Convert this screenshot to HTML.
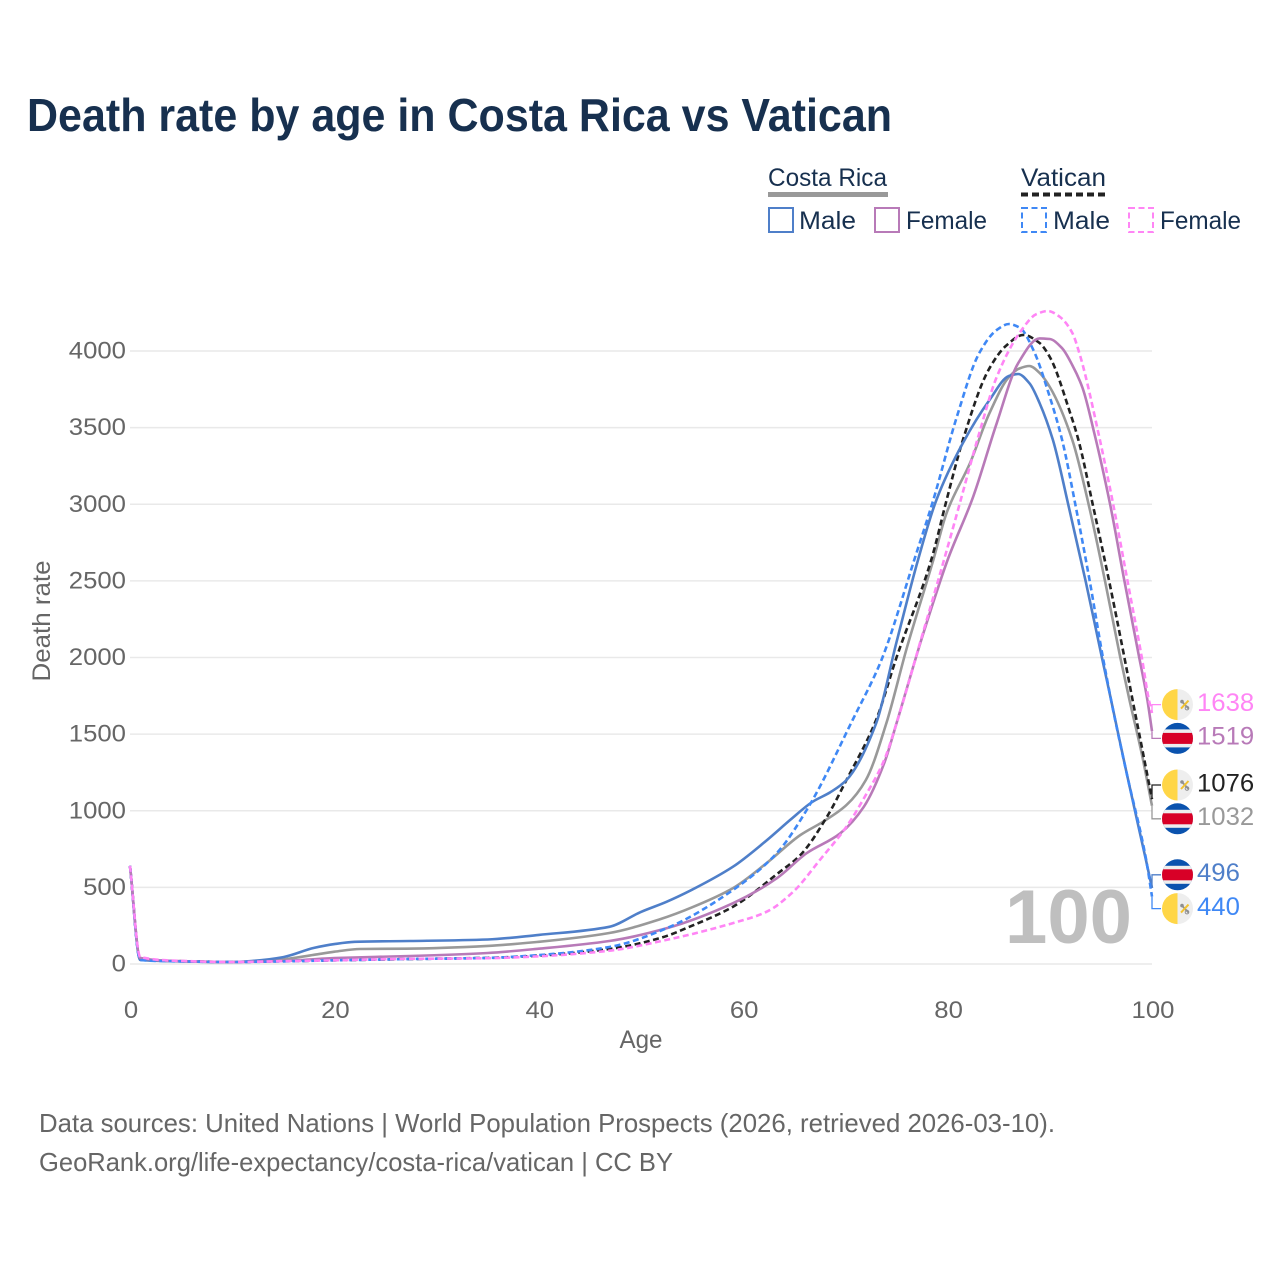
<!DOCTYPE html>
<html lang="en">
<head>
<meta charset="utf-8">
<title>Death rate by age in Costa Rica vs Vatican</title>
<style>
html,body{margin:0;padding:0;background:#fff;width:1280px;height:1280px;overflow:hidden}
svg{display:block}
text{font-family:"Liberation Sans",sans-serif}
</style>
</head>
<body>
<svg id="chart" xmlns="http://www.w3.org/2000/svg" width="1280" height="1280" viewBox="0 0 1280 1280">
  <defs>
    <clipPath id="flag-clip"><circle cx="0" cy="0" r="15.5"></circle></clipPath>
  </defs>
  <rect x="0" y="0" width="1280" height="1280" fill="#ffffff"></rect>

  <text x="27" y="131" font-size="46" font-weight="700" fill="#17304f" textLength="865" lengthAdjust="spacingAndGlyphs">Death rate by age in Costa Rica vs Vatican</text>

  <g>
    <text x="768" y="186" font-size="25" fill="#17304f" textLength="119" lengthAdjust="spacingAndGlyphs">Costa Rica</text>
    <line x1="768" y1="194.5" x2="888" y2="194.5" stroke="#999999" stroke-width="5"></line>
    <text x="1021" y="186" font-size="25" fill="#17304f" textLength="85" lengthAdjust="spacingAndGlyphs">Vatican</text>
    <line x1="1021" y1="194.5" x2="1106" y2="194.5" stroke="#222222" stroke-width="4" stroke-dasharray="7 4"></line>

    <rect x="769" y="208" width="24" height="24" fill="none" stroke="#4f7fc9" stroke-width="2"></rect>
    <text x="799" y="229" font-size="25" fill="#17304f" textLength="57" lengthAdjust="spacingAndGlyphs">Male</text>
    <rect x="875" y="208" width="24" height="24" fill="none" stroke="#b87ab8" stroke-width="2"></rect>
    <text x="906" y="229" font-size="25" fill="#17304f" textLength="81" lengthAdjust="spacingAndGlyphs">Female</text>
    <rect x="1022" y="208" width="24" height="24" fill="none" stroke="#3f88f5" stroke-width="2" stroke-dasharray="6 3.5"></rect>
    <text x="1053" y="229" font-size="25" fill="#17304f" textLength="57" lengthAdjust="spacingAndGlyphs">Male</text>
    <rect x="1129" y="208" width="24" height="24" fill="none" stroke="#ff85f5" stroke-width="2" stroke-dasharray="6 3.5"></rect>
    <text x="1160" y="229" font-size="25" fill="#17304f" textLength="81" lengthAdjust="spacingAndGlyphs">Female</text>
  </g>

  <g id="grid"></g>
  <g id="yticks"></g>
  <g id="xticks"></g>

  <text transform="translate(50,621) rotate(-90)" text-anchor="middle" font-size="25" fill="#666666" textLength="121" lengthAdjust="spacingAndGlyphs">Death rate</text>
  <text x="641" y="1048" text-anchor="middle" font-size="25" fill="#666666" textLength="43" lengthAdjust="spacingAndGlyphs">Age</text>

  <text x="1005" y="943" font-size="76" font-weight="700" fill="#bfbfbf" textLength="127" lengthAdjust="spacingAndGlyphs">100</text>

  <g id="series"></g>
  <g id="endlabels"></g>

  <text x="39" y="1132" font-size="26" fill="#666666" textLength="1016" lengthAdjust="spacingAndGlyphs">Data sources: United Nations | World Population Prospects (2026, retrieved 2026-03-10).</text>
  <text x="39" y="1171" font-size="26" fill="#666666" textLength="634" lengthAdjust="spacingAndGlyphs">GeoRank.org/life-expectancy/costa-rica/vatican | CC BY</text>
</svg>

<script>
const yTickLabels = [0, 500, 1000, 1500, 2000, 2500, 3000, 3500, 4000];
const xTickLabels = [0, 20, 40, 60, 80, 100];

const costaRicaBothAges = [0, 1, 5, 10, 12, 15, 18, 20, 22.5, 27, 35, 40, 46.9, 51.9, 55, 59, 62.3, 65.6, 67.8, 70.1, 72, 74, 76, 78.6, 79.9, 82.2, 84.1, 86, 87, 88, 89, 90, 92.2, 93.8, 95.4, 96.9, 97.8, 99, 100];
const costaRicaBothRates = [640, 32, 18, 14, 16, 30, 60, 80, 98, 100, 118, 145, 202, 293, 370, 495, 659, 842, 928, 1037, 1200, 1570, 2060, 2636, 2943, 3270, 3595, 3830, 3885, 3902, 3857, 3765, 3420, 3000, 2500, 2000, 1722, 1370, 1032];

const vaticanBothAges = [0, 1, 5, 10, 15, 20, 27, 35, 40, 46.9, 51.9, 55, 59, 63.6, 65.6, 68.2, 70.1, 73, 75, 78.4, 79.9, 81.5, 84, 85.8, 87.4, 89, 90, 92, 92.8, 94.2, 95.8, 97.3, 98.1, 99.2, 100];
const vaticanBothRates = [640, 34, 18, 14, 18, 24, 32, 40, 55, 98, 170, 250, 374, 602, 711, 961, 1200, 1592, 2000, 2636, 3028, 3420, 3876, 4039, 4105, 4052, 3961, 3595, 3420, 3000, 2500, 2000, 1722, 1350, 1076];

const costaRicaMaleAges = [0, 1, 5, 10, 12, 15, 18, 20, 22, 27.4, 35, 40, 46.9, 50, 52.5, 55, 59, 62, 64.6, 66.8, 68.5, 70.1, 73, 75, 77.1, 78.9, 81.5, 84.1, 86, 86.9, 88, 89, 90.3, 91.8, 93.5, 95.1, 96, 97.5, 99.4, 100];
const costaRicaMaleRates = [640, 26, 17, 13, 20, 45, 105, 130, 145, 150, 160, 190, 243, 340, 406, 485, 635, 790, 940, 1059, 1120, 1200, 1570, 2100, 2636, 3028, 3400, 3680, 3837, 3850, 3790, 3660, 3420, 3000, 2500, 2000, 1722, 1250, 680, 496];

const costaRicaFemaleAges = [0, 1, 5, 10, 15, 20, 27.4, 35, 40, 46.9, 52.5, 59, 63.3, 66.2, 69.5, 71.8, 73.8, 75, 77.5, 80, 82.5, 84.8, 86.9, 89, 90, 91.2, 92.2, 93.2, 94.3, 95.9, 97.3, 98.75, 99.55, 100];
const costaRicaFemaleRates = [640, 40, 18, 13, 20, 39, 52, 72, 100, 150, 233, 397, 560, 723, 853, 1026, 1310, 1570, 2130, 2636, 3048, 3528, 3920, 4082, 4078, 4018, 3908, 3760, 3480, 3000, 2500, 2000, 1722, 1519];

const vaticanMaleAges = [0, 1, 5, 10, 15, 20, 27, 35, 40, 46.9, 52.5, 59, 63.3, 66.5, 70.7, 73.5, 76.8, 78.6, 80.9, 83.1, 84.8, 86, 87.1, 88.4, 90, 91.2, 92.5, 93.9, 95.2, 96, 97.5, 99.4, 100];
const vaticanMaleRates = [640, 26, 17, 13, 17, 24, 32, 40, 58, 111, 233, 483, 724, 1037, 1592, 1980, 2650, 3028, 3570, 3987, 4137, 4176, 4150, 4006, 3700, 3420, 3000, 2500, 2000, 1722, 1250, 690, 440];

const vaticanFemaleAges = [0, 1, 5, 10, 15, 20, 27, 35, 40, 46.9, 52.5, 59, 62.3, 64.9, 67.5, 70.1, 72, 73.8, 75, 77.5, 80, 81.2, 83.1, 84.8, 87.1, 88.7, 89.8, 91, 92.2, 93, 94.9, 96.2, 97.6, 99, 99.7, 100];
const vaticanFemaleRates = [640, 46, 20, 13, 18, 24, 33, 38, 50, 87, 157, 267, 341, 472, 679, 896, 1103, 1331, 1570, 2140, 2720, 3008, 3465, 3830, 4124, 4241, 4261, 4222, 4118, 3961, 3420, 3000, 2500, 2000, 1722, 1638];

const SVG_NS = 'http://www.w3.org/2000/svg';
const X0 = 130, X100 = 1152, Y0 = 964, Y4000 = 351;
function xScale(age) { return X0 + (X100 - X0) * age / 100; }
function yScale(rate) { return Y0 + (Y4000 - Y0) * rate / 4000; }

function make(tag, attrs, parent) {
  const el = document.createElementNS(SVG_NS, tag);
  for (const k in attrs) el.setAttribute(k, attrs[k]);
  parent.appendChild(el);
  return el;
}

/* Monotone cubic path through the scaled data points */
function curvePath(xs, ys) {
  const n = xs.length;
  const slope = [];
  for (let i = 0; i < n - 1; i++) slope.push((ys[i + 1] - ys[i]) / (xs[i + 1] - xs[i]));
  const tan = [slope[0]];
  for (let i = 1; i < n - 1; i++) {
    if (slope[i - 1] * slope[i] <= 0) { tan.push(0); continue; }
    const h0 = xs[i] - xs[i - 1], h1 = xs[i + 1] - xs[i];
    const w0 = 2 * h1 + h0, w1 = h1 + 2 * h0;
    tan.push((w0 + w1) / (w0 / slope[i - 1] + w1 / slope[i]));
  }
  tan.push(slope[n - 2]);
  let d = 'M' + xs[0].toFixed(1) + ',' + ys[0].toFixed(1);
  for (let i = 0; i < n - 1; i++) {
    const h = (xs[i + 1] - xs[i]) / 3;
    d += 'C' + (xs[i] + h).toFixed(1) + ',' + (ys[i] + tan[i] * h).toFixed(1) + ' ' +
      (xs[i + 1] - h).toFixed(1) + ',' + (ys[i + 1] - tan[i + 1] * h).toFixed(1) + ' ' +
      xs[i + 1].toFixed(1) + ',' + ys[i + 1].toFixed(1);
  }
  return d;
}

const gridLayer = document.getElementById('grid');
const yLayer = document.getElementById('yticks');
const xLayer = document.getElementById('xticks');
yTickLabels.forEach(function (v) {
  const ln = make('line', { x1: X0, x2: X100, y1: yScale(v), y2: yScale(v), stroke: '#e9e9e9', 'stroke-width': 1.5 }, gridLayer);
  
  
  const label = String(v);
  const t = make('text', { x: 126, y: yScale(v) + 7.5, 'text-anchor': 'end', 'font-size': 24.5, fill: '#666666', textLength: label.length * 14.3, lengthAdjust: 'spacingAndGlyphs' }, yLayer);
  
  
  t.textContent = label;
});
xTickLabels.forEach(function (v) {
  const label = String(v);
  const t = make('text', { x: xScale(v) + 1, y: 1018, 'text-anchor': 'middle', 'font-size': 24.5, fill: '#666666', textLength: label.length * 14.3, lengthAdjust: 'spacingAndGlyphs' }, xLayer);
  
  
  t.textContent = label;
});

const seriesDefs = [
  { id: 'costa-rica-both', ages: costaRicaBothAges, rates: costaRicaBothRates, color: '#999999', dash: '', flag: 'cr' },
  { id: 'vatican-both', ages: vaticanBothAges, rates: vaticanBothRates, color: '#222222', dash: '6 3.5', flag: 'va' },
  { id: 'costa-rica-male', ages: costaRicaMaleAges, rates: costaRicaMaleRates, color: '#4f7fc9', dash: '', flag: 'cr' },
  { id: 'costa-rica-female', ages: costaRicaFemaleAges, rates: costaRicaFemaleRates, color: '#b87ab8', dash: '', flag: 'cr' },
  { id: 'vatican-male', ages: vaticanMaleAges, rates: vaticanMaleRates, color: '#3f88f5', dash: '6 3.5', flag: 'va' },
  { id: 'vatican-female', ages: vaticanFemaleAges, rates: vaticanFemaleRates, color: '#ff85f5', dash: '6 3.5', flag: 'va' }
];

const seriesLayer = document.getElementById('series');
seriesDefs.forEach(function (s) {
  const attrs = { d: curvePath(s.ages.map(xScale), s.rates.map(yScale)), fill: 'none', stroke: s.color, 'stroke-width': 2.6, 'stroke-linejoin': 'round' };
  if (s.dash) attrs['stroke-dasharray'] = s.dash;
  const line = make('path', attrs, seriesLayer);
  
  
});

/* End labels: dodge overlapping flags so neighbours sit a fixed gap apart */
const GAP = 33.8;
const ends = seriesDefs.map(function (s) {
  const last = s.rates[s.rates.length - 1];
  return { s: s, value: last, lineY: yScale(last) };
}).sort(function (a, b) { return a.lineY - b.lineY; });

let clusters = ends.map(function (e) { return { items: [e], center: e.lineY }; });
let merged = true;
while (merged) {
  merged = false;
  for (let i = 0; i < clusters.length - 1; i++) {
    const a = clusters[i], b = clusters[i + 1];
    const aBottom = a.center + (a.items.length - 1) * GAP / 2;
    const bTop = b.center - (b.items.length - 1) * GAP / 2;
    if (bTop - aBottom < GAP) {
      const items = a.items.concat(b.items);
      const center = items.reduce(function (sum, e) { return sum + e.lineY; }, 0) / items.length;
      clusters.splice(i, 2, { items: items, center: center });
      merged = true;
      break;
    }
  }
}
clusters.forEach(function (c) {
  c.items.forEach(function (e, i) {
    e.flagY = c.center - 0.6 + (i - (c.items.length - 1) / 2) * GAP;
  });
});

function drawFlag(parent, kind, cy) {
  const g = make('g', { transform: 'translate(1177.5,' + cy.toFixed(1) + ')', 'clip-path': 'url(#flag-clip)' }, parent);
  
  
  if (kind === 'cr') {
    make('rect', { x: -16, y: -16, width: 32, height: 32, fill: '#0a52ae' }, g);
    make('rect', { x: -16, y: -9, width: 32, height: 18, fill: '#eeeeee' }, g);
    make('rect', { x: -16, y: -5.5, width: 32, height: 11, fill: '#d80027' }, g);
  } else {
    make('rect', { x: -16, y: -16, width: 16, height: 32, fill: '#ffd647' }, g);
    make('rect', { x: 0, y: -16, width: 16, height: 32, fill: '#eeeeee' }, g);
    make('line', { x1: 4, y1: -3.5, x2: 11, y2: 4, stroke: '#8f8f8f', 'stroke-width': 1.8 }, g);
    make('line', { x1: 3.5, y1: 4, x2: 11, y2: -4, stroke: '#f2c230', 'stroke-width': 2 }, g);
    make('circle', { cx: 9.5, cy: 3.5, r: 1.8, fill: 'none', stroke: '#8f8f8f', 'stroke-width': 1 }, g);
    make('circle', { cx: 4.5, cy: -3, r: 1.8, fill: '#8f8f8f' }, g);
  }
}

const labelLayer = document.getElementById('endlabels');
ends.forEach(function (e) {
  const leader = make('polyline', {
    points: X100 + ',' + e.lineY.toFixed(1) + ' ' + X100 + ',' + e.flagY.toFixed(1) + ' 1161,' + e.flagY.toFixed(1),
    fill: 'none', stroke: e.s.color, 'stroke-width': 1.3
  }, labelLayer);
  
  
  drawFlag(labelLayer, e.s.flag, e.flagY);
  const label = String(e.value);
  const t = make('text', {
    x: 1197, y: e.flagY + 6.3, 'font-size': 25, fill: e.s.color,
    textLength: label.length * 14.3, lengthAdjust: 'spacingAndGlyphs'
  }, labelLayer);
  
  
  t.textContent = label;
});
</script>
</body>
</html>
